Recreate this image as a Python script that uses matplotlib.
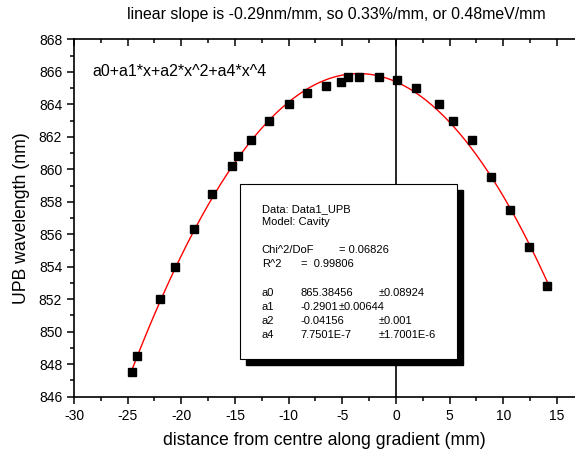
import numpy as np
import matplotlib
matplotlib.use("Agg")
import matplotlib.pyplot as plt
from matplotlib.patches import Rectangle
from matplotlib.ticker import MultipleLocator

plt.rcParams['font.family'] = ['Liberation Sans', 'DejaVu Sans']
plt.rcParams['axes.unicode_minus'] = False

# Measured UPB wavelength along the gradient
distance_mm = [-24.6, -24.1, -22.0, -20.6, -18.8, -17.1, -15.3, -14.7, -13.5, -11.8,
               -10.0, -8.3, -6.5, -5.1, -4.5, -3.4, -1.6, 0.1, 1.9, 4.0,
               5.3, 7.1, 8.9, 10.6, 12.4, 14.1]
wavelength_nm = [847.5, 848.5, 852.0, 854.0, 856.3, 858.5, 860.2, 860.8, 861.8, 863.0,
                 864.0, 864.7, 865.1, 865.4, 865.7, 865.7, 865.7, 865.5, 865.0, 864.0,
                 863.0, 861.8, 859.5, 857.5, 855.2, 852.8]

# Fit parameters (Cavity model: a0 + a1*x + a2*x^2 + a4*x^4)
a0, a1, a2, a4 = 865.38456, -0.2901, -0.04156, 7.7501e-7

W, H = 575, 457
fig = plt.figure(figsize=(W / 100, H / 100), dpi=100)

def fx(px):
    return px / W

def fy(py):
    return 1 - py / H

ax = fig.add_axes([fx(74), fy(396.7), (W - 74) / W, (396.7 - 39.3) / H])
ax.set_xlim(-30, 16.68)
ax.set_ylim(846, 868)

xf = np.linspace(min(distance_mm), max(distance_mm), 300)
yf = a0 + a1 * xf + a2 * xf ** 2 + a4 * xf ** 4
ax.plot(xf, yf, color='red', lw=1.0, zorder=3)
ax.plot(distance_mm, wavelength_nm, 's', color='black', ms=6, mec='black', zorder=4)
ax.axvline(0, color='black', lw=1.2, zorder=1)

ax.xaxis.set_major_locator(MultipleLocator(5))
ax.xaxis.set_minor_locator(MultipleLocator(2.5))
ax.yaxis.set_major_locator(MultipleLocator(2))
ax.yaxis.set_minor_locator(MultipleLocator(1))
ax.tick_params(axis='both', which='major', labelsize=10, width=1.1, length=5,
               direction='out', colors='black')
ax.tick_params(axis='both', which='minor', width=1.1, length=3, direction='out')
ax.tick_params(axis='x', top=True, which='both')
for sp in ax.spines.values():
    sp.set_linewidth(1.2)
ax.spines['right'].set_visible(False)

# top ticks point inward
for t in ax.xaxis.get_major_ticks():
    t.tick2line.set_marker(matplotlib.lines.TICKDOWN)
for t in ax.xaxis.get_minor_ticks():
    t.tick2line.set_marker(matplotlib.lines.TICKDOWN)

ax.set_xlabel('distance from centre along gradient (mm)', fontsize=12.7, labelpad=7)
ax.set_ylabel('UPB wavelength (nm)', fontsize=12.7, labelpad=6)

fig.text(fx(336), fy(14), 'linear slope is -0.29nm/mm, so 0.33%/mm, or 0.48meV/mm',
         ha='center', va='center', fontsize=11.4)
ax.text(fx(92), fy(71), 'a0+a1*x+a2*x^2+a4*x^4', transform=fig.transFigure,
        ha='left', va='center', fontsize=11.5, zorder=6)

# fit report box with drop shadow
bx0, by0, bx1, by1 = 240, 184, 457, 359
off = 6
fig.patches.append(Rectangle((fx(bx0 + off), fy(by1 + off)), (bx1 - bx0) / W, (by1 - by0) / H,
                             transform=fig.transFigure, facecolor='black', edgecolor='black',
                             zorder=5))
fig.patches.append(Rectangle((fx(bx0), fy(by1)), (bx1 - bx0) / W, (by1 - by0) / H,
                             transform=fig.transFigure, facecolor='white', edgecolor='black',
                             lw=0.8, zorder=6))

fs = 8
rows = [
    (261.7, 208.7, 'Data: Data1_UPB'),
    (261.7, 222.3, 'Model: Cavity'),
    (261.7, 250.0, 'Chi^2/DoF'),
    (339.0, 250.0, '= 0.06826'),
    (261.7, 264.3, 'R^2'),
    (301.0, 264.3, '=  0.99806'),
    (261.7, 292.7, 'a0'),
    (300.3, 292.7, '865.38456'),
    (378.3, 292.7, '\u00b10.08924'),
    (261.7, 306.7, 'a1'),
    (300.3, 306.7, '-0.2901'),
    (338.7, 306.7, '\u00b10.00644'),
    (261.7, 320.7, 'a2'),
    (300.3, 320.7, '-0.04156'),
    (378.3, 320.7, '\u00b10.001'),
    (261.7, 334.7, 'a4'),
    (300.3, 334.7, '7.7501E-7'),
    (378.3, 334.7, '\u00b11.7001E-6'),
]
for px, py, s in rows:
    t = fig.text(fx(px), fy(py), s, ha='left', va='center', fontsize=fs)
    t.set_zorder(7)

fig.savefig('out.png', dpi=100)
